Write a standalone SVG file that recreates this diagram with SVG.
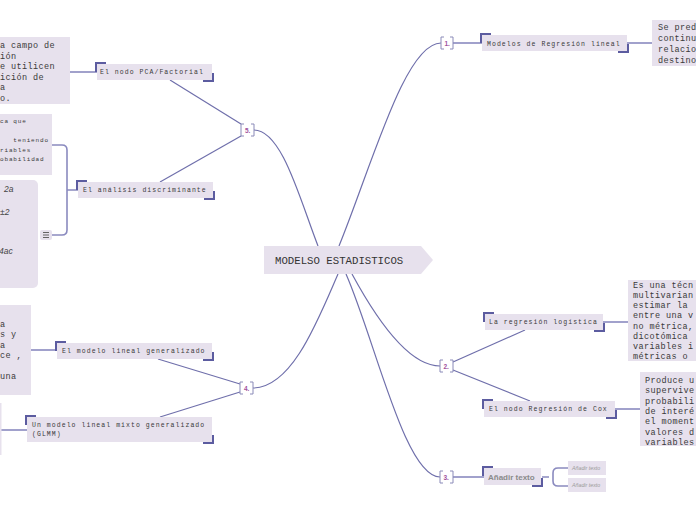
<svg xmlns="http://www.w3.org/2000/svg" width="696" height="520" viewBox="0 0 696 520">
<style>
.box{fill:#e7e1ed}
.lbl{font-family:"Liberation Mono",monospace;font-size:6.5px;letter-spacing:1.05px;fill:#3a3a3a}
.txt{font-family:"Liberation Mono",monospace;font-size:8.5px;letter-spacing:0.4px;fill:#3a3a3a}
.stxt{font-family:"Liberation Mono",monospace;font-size:6px;letter-spacing:0.85px;fill:#3a3a3a}
.frm{font-family:"Liberation Sans",sans-serif;font-style:italic;font-size:8.5px;fill:#444}
.corner{fill:none;stroke:#5c5ca0;stroke-width:2}
.conn{fill:none;stroke:#6f6fab;stroke-width:1.2}
.side{fill:none;stroke:#8a8abf;stroke-width:1.6}
.mk{fill:none;stroke:#8a8ab8;stroke-width:1}
.num{font-family:"Liberation Sans",sans-serif;font-size:6.5px;font-weight:bold;fill:#a0509c}
.add{font-family:"Liberation Sans",sans-serif;font-size:8px;font-weight:bold;fill:#8a8a8a}
.sub{font-family:"Liberation Sans",sans-serif;font-size:5.3px;font-style:italic;fill:#9a9a9a}
</style>
<g id="connectors">
<path class="conn" d="M339,246 C372,165 405,43 441,43"/>
<path class="conn" d="M318,246 C300,200 282,130 254,130"/>
<path class="conn" d="M338,274 C318,320 292,388 253,388"/>
<path class="conn" d="M352,274 C378,322 410,366 440,366"/>
<path class="conn" d="M346,274 C375,340 405,477 440,477"/>
<line class="side" x1="453" y1="43" x2="482" y2="43"/>
<line class="side" x1="627" y1="43" x2="652" y2="43"/>
<line class="conn" x1="241" y1="124" x2="170" y2="80"/>
<line class="conn" x1="241" y1="136" x2="160" y2="182"/>
<line class="side" x1="70" y1="72" x2="97" y2="72"/>
<path class="side" d="M52,235 H62 Q67,235 67,230 V150 Q67,145 62,145 H52 M67,190 H78"/>
<line class="conn" x1="240" y1="384" x2="158" y2="359"/>
<line class="conn" x1="240" y1="392" x2="160" y2="417"/>
<line class="side" x1="31" y1="350" x2="57" y2="350"/>
<line class="side" x1="1" y1="430" x2="27" y2="430"/>
<line class="conn" x1="453" y1="362" x2="525" y2="330"/>
<line class="conn" x1="453" y1="370" x2="530" y2="401"/>
<line class="side" x1="603" y1="322" x2="628" y2="322"/>
<line class="side" x1="615" y1="409" x2="640" y2="409"/>
<line class="side" x1="453" y1="477" x2="484" y2="477"/>
<path class="side" d="M542,477 H549 M568,468 H558 Q553,468 553,473 V481 Q553,486 558,486 H568"/>
</g>
<g id="center">
<polygon points="264,246 421,246 433,260 421,274 264,274" class="box"/>
<text x="275" y="263.5" style="font-family:'Liberation Mono',monospace;font-size:10.7px;fill:#333">MODELSO ESTADISTICOS</text>
</g>
<g id="m1"><path class="mk" d="M444,37 H441 V49 H444 M450,37 H453 V49 H450"/><text class="num" x="444.5" y="45.5">1.</text></g>
<g id="m5"><path class="mk" d="M244,124 H241 V136 H244 M251,124 H254 V136 H251"/><text class="num" x="245" y="132.5">5.</text></g>
<g id="m4"><path class="mk" d="M243,382 H240 V394 H243 M250,382 H253 V394 H250"/><text class="num" x="244" y="390.5">4.</text></g>
<g id="m2"><path class="mk" d="M443,360 H440 V372 H443 M450,360 H453 V372 H450"/><text class="num" x="443.5" y="368.5">2.</text></g>
<g id="m3"><path class="mk" d="M443,471 H440 V483 H443 M450,471 H453 V483 H450"/><text class="num" x="443.5" y="479.5">3.</text></g>
<g id="n-regresion-lineal">
<rect class="box" x="482" y="35" width="145" height="16"/>
<path class="corner" d="M481,43 V34 H491 M618,52 H628 V44"/>
<text class="lbl" x="487" y="45.5">Modelos de Regresión lineal</text>
</g>
<g id="t-regresion-lineal">
<rect class="box" x="652" y="20" width="50" height="46"/>
<text class="txt" x="658" y="30">Se pred</text>
<text class="txt" x="658" y="41">continu</text>
<text class="txt" x="658" y="52">relacio</text>
<text class="txt" x="658" y="63">destino</text>
</g>
<g id="n-pca">
<rect class="box" x="97" y="64" width="115" height="16"/>
<path class="corner" d="M96,72 V63 H106 M203,81 H213 V73"/>
<text class="lbl" x="100" y="74.3">El nodo PCA/Factorial</text>
</g>
<g id="t-pca">
<rect class="box" x="-5" y="37" width="75" height="67"/>
<text class="txt" x="0" y="48">a campo de</text>
<text class="txt" x="0" y="58.5">ión</text>
<text class="txt" x="0" y="69">e utilicen</text>
<text class="txt" x="0" y="79.5">ición de</text>
<text class="txt" x="0" y="90">a</text>
<text class="txt" x="0" y="100.5">o.</text>
</g>
<g id="n-discriminante">
<rect class="box" x="78" y="182" width="135" height="16"/>
<path class="corner" d="M77,190 V181 H87 M204,199 H214 V191"/>
<text class="lbl" x="83" y="192.3">El análisis discriminante</text>
</g>
<g id="t-discriminante">
<rect class="box" x="-5" y="114" width="57" height="61"/>
<text class="stxt" x="0" y="123">ca que</text>
<text class="stxt" x="13.3" y="142">teniendo</text>
<text class="stxt" x="0" y="151.5">riables</text>
<text class="stxt" x="0" y="161">obabilidad</text>
</g>
<g id="t-formula">
<rect class="box" x="-10" y="180" width="48" height="108" rx="5"/>
<text class="frm" x="4" y="192">2a</text>
<text class="frm" x="0" y="215">±2</text>
<text class="frm" x="-1" y="254">4ac</text>
<rect x="40" y="230" width="12" height="10" rx="2" fill="#e7e1ed"/>
<path d="M43,232.5 H49 M43,235 H49 M43,237.5 H49" stroke="#555" stroke-width="0.9"/>
</g>
<g id="n-lineal-generalizado">
<rect class="box" x="57" y="343" width="155" height="16"/>
<path class="corner" d="M56,351 V342 H66 M203,360 H213 V352"/>
<text class="lbl" x="62" y="353.3">El modelo lineal generalizado</text>
</g>
<g id="t-lineal-generalizado">
<rect class="box" x="-5" y="305" width="36" height="90"/>
<text class="txt" x="0" y="327">a</text>
<text class="txt" x="0" y="337">s y</text>
<text class="txt" x="0" y="347.5">a</text>
<text class="txt" x="0" y="358">ce ,</text>
<text class="txt" x="0" y="378.5">una</text>
</g>
<g id="n-glmm">
<rect class="box" x="27" y="417" width="185" height="25"/>
<path class="corner" d="M26,425 V416 H36 M203,443 H213 V435"/>
<text class="lbl" x="32" y="427.3">Un modelo lineal mixto generalizado</text>
<text class="lbl" x="32" y="435.8">(GLMM)</text>
</g>
<g id="t-glmm"><rect class="box" x="-5" y="403" width="6.5" height="52"/></g>
<g id="n-logistica">
<rect class="box" x="485" y="314" width="118" height="16"/>
<path class="corner" d="M484,322 V313 H494 M594,331 H604 V323"/>
<text class="lbl" x="489" y="324.3">La regresión logística</text>
</g>
<g id="t-logistica">
<rect class="box" x="628" y="280" width="70" height="81"/>
<text class="txt" x="633" y="288">Es una técn</text>
<text class="txt" x="633" y="298.1">multivarian</text>
<text class="txt" x="633" y="308.3">estimar la</text>
<text class="txt" x="633" y="318.4">entre una v</text>
<text class="txt" x="633" y="328.6">no métrica,</text>
<text class="txt" x="633" y="338.7">dicotómica</text>
<text class="txt" x="633" y="348.9">variables i</text>
<text class="txt" x="633" y="359">métricas o</text>
</g>
<g id="n-cox">
<rect class="box" x="484" y="401" width="131" height="16"/>
<path class="corner" d="M483,409 V400 H493 M606,418 H616 V410"/>
<text class="lbl" x="489" y="411.3">El nodo Regresión de Cox</text>
</g>
<g id="t-cox">
<rect class="box" x="640" y="372" width="60" height="74"/>
<text class="txt" x="645" y="383">Produce u</text>
<text class="txt" x="645" y="393.3">supervive</text>
<text class="txt" x="645" y="403.7">probabili</text>
<text class="txt" x="645" y="414">de interé</text>
<text class="txt" x="645" y="424.3">el moment</text>
<text class="txt" x="645" y="434.7">valores d</text>
<text class="txt" x="645" y="445">variables</text>
</g>
<g id="n-anadir">
<rect class="box" x="484" y="468" width="57" height="17"/>
<path class="corner" d="M483,476 V467 H493 M532,486 H542 V478"/>
<text class="add" x="488" y="480">Añadir texto</text>
</g>
<g id="n-anadir-1">
<rect class="box" x="568" y="461" width="38" height="14"/>
<text class="sub" x="572" y="470">Añadir texto</text>
</g>
<g id="n-anadir-2">
<rect class="box" x="568" y="478" width="38" height="14"/>
<text class="sub" x="572" y="487">Añadir texto</text>
</g>
</svg>
